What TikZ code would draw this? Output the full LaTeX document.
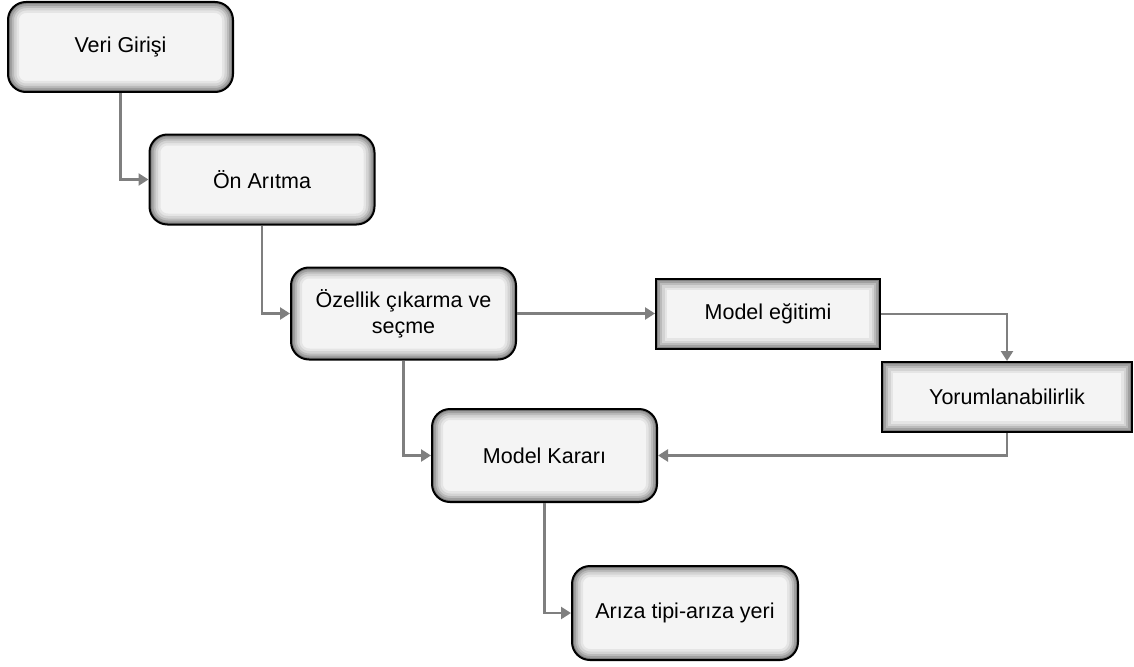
\documentclass[tikz,border=0pt]{standalone}
\usepackage{fontspec}
\setmainfont{Liberation Sans}
\usetikzlibrary{arrows.meta}
\definecolor{boxfill}{HTML}{F4F4F4}
\definecolor{linkgray}{HTML}{7F7F7F}
\tikzset{
  inshadow/.style={path picture={
    \foreach \w/\o in {22/0.06,17/0.08,12/0.11,8/0.14,4/0.2}
      \draw[black, opacity=\o, line width=\w pt, rounded corners=#1]
        (path picture bounding box.south west) rectangle (path picture bounding box.north east);
  }},
  roundbox/.style={draw=black, line width=2pt, fill=boxfill, rounded corners=18pt,
    minimum width=225pt, minimum height=90pt, align=center, inshadow=18pt,
    font=\fontsize{21.5}{26}\selectfont},
  sharpbox/.style={draw=black, line width=2pt, fill=boxfill, rounded corners=0pt,
    minimum height=70pt, align=center, inshadow=0pt,
    font=\fontsize{21.5}{26}\selectfont},
  link/.style={draw=linkgray, line width=2.4pt, -{Triangle[length=10pt,width=12pt]}, color=linkgray},
}
\begin{document}
\begin{tikzpicture}[x=1pt,y=-1pt]
  \useasboundingbox (0,0) rectangle (1134,666);
  % process boxes
  \node[roundbox] (veri) at (120.5,47) {Veri Girişi};
  \node[roundbox] (on) at (262,179.5) {Ön Arıtma};
  \node[roundbox, minimum height=92pt] (oz) at (403.5,313.5) {Özellik çıkarma ve\\seçme};
  \node[sharpbox, minimum width=224pt] (egit) at (768,314) {Model eğitimi};
  \node[sharpbox, minimum width=250pt] (yorum) at (1007,397) {Yorumlanabilirlik};
  \node[roundbox, minimum height=93pt] (karar) at (544.5,455.5) {Model Kararı};
  \node[roundbox, minimum width=226pt, minimum height=94pt] (ariza) at (685,613) {Arıza tipi-arıza yeri};
  % connectors
  \draw[link] (veri.south) |- (on.west);
  \draw[link] (on.south) |- (oz.west);
  \draw[link] (oz.east) -- (oz.east -| egit.west);
  \draw[link] (egit.east) -| (yorum.north);
  \draw[link] (yorum.south) |- (karar.east);
  \draw[link] (oz.south) |- (karar.west);
  \draw[link] (karar.south) |- (ariza.west);
\end{tikzpicture}
\end{document}
